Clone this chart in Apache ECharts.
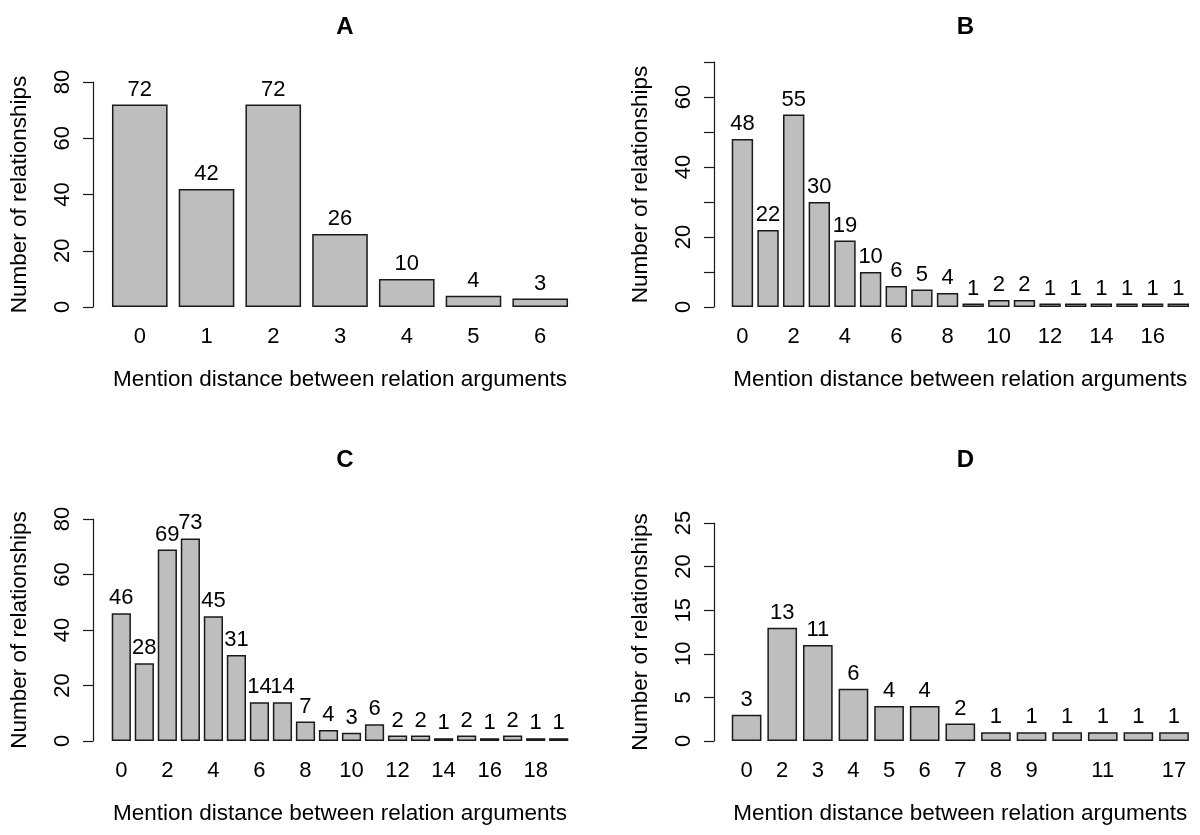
<!DOCTYPE html>
<html>
<head>
<meta charset="utf-8">
<script src="https://cdn.jsdelivr.net/npm/echarts@6/dist/echarts.min.js"></script>
<style>html,body{margin:0;padding:0;background:#fff;}#chart{width:1200px;height:835px;}</style>
</head>
<body>
<div id="chart"></div>
<script>
// ---- Data ----
const catsA = ['0','1','2','3','4','5','6'];
const valsA = [72, 42, 72, 26, 10, 4, 3];

const catsB = ['0','1','2','3','4','5','6','7','8','9','10','11','12','13','14','15','16','17'];
const valsB = [48, 22, 55, 30, 19, 10, 6, 5, 4, 1, 2, 2, 1, 1, 1, 1, 1, 1];

const catsC = ['0','1','2','3','4','5','6','7','8','9','10','11','12','13','14','15','16','17','18','19'];
const valsC = [46, 28, 69, 73, 45, 31, 14, 14, 7, 4, 3, 6, 2, 2, 1, 2, 1, 2, 1, 1];

const catsD = ['0','2','3','4','5','6','7','8','9','10','11','12','17'];
const valsD = [3, 13, 11, 6, 4, 4, 2, 1, 1, 1, 1, 1, 1];
const hiddenD = [9, 11];

const panelTitles = ['A', 'B', 'C', 'D'];
const yMax = [80, 70, 80, 25];
const yInterval = [20, 10, 20, 5];
const yLabelStep = [20, 20, 20, 5];
const xTitle = 'Mention distance between relation arguments';
const yTitle = 'Number of relationships';

// ---- Layout ----
const FONT = 'Liberation Sans, Arial, Helvetica, sans-serif';
const FS = 22;
const grids = [
  {left: 106.4, top: 82, width: 467.2, height: 225, offset: 13.4},
  {left: 729.6, top: 62, width: 461.5, height: 245, offset: 15.6},
  {left: 109.8, top: 519, width: 460.4, height: 222, offset: 16.8},
  {left: 728.8, top: 523, width: 463, height: 218, offset: 14.8}
];
const cats = [catsA, catsB, catsC, catsD];
const vals = [valsA, valsB, valsC, valsD];
const xIntervals = [0, 1, 1, function (i) { return hiddenD.indexOf(i) < 0; }];

const option = {
  backgroundColor: '#fff',
  animation: false,
  title: grids.map((g, i) => ({
    text: panelTitles[i],
    left: g.left + g.width / 2,
    top: i < 2 ? 10 : 443,
    textAlign: 'center',
    textStyle: {fontFamily: FONT, fontSize: 24, fontWeight: 'bold', color: '#000'}
  })),
  grid: grids.map(g => ({left: g.left, top: g.top, width: g.width, height: g.height, containLabel: false, outerBoundsMode: 'none'})),
  xAxis: grids.map((g, i) => ({
    type: 'category',
    gridIndex: i,
    data: cats[i],
    axisLine: {show: false},
    axisTick: {show: false},
    axisLabel: {interval: xIntervals[i], margin: 19, fontSize: FS, color: '#000', fontFamily: FONT},
    name: xTitle,
    nameLocation: 'middle',
    nameGap: 61,
    nameTextStyle: {fontSize: 22.5, color: '#000', fontFamily: FONT}
  })),
  yAxis: grids.map((g, i) => ({
    type: 'value',
    gridIndex: i,
    min: 0,
    max: yMax[i],
    interval: yInterval[i],
    offset: g.offset,
    splitLine: {show: false},
    axisLine: {show: true, lineStyle: {color: '#1a1a1a', width: 1.2}},
    axisTick: {show: true, length: 10, lineStyle: {color: '#1a1a1a', width: 1.2}},
    axisLabel: {
      rotate: 90,
      margin: 19,
      fontSize: FS,
      color: '#000',
      fontFamily: FONT,
      formatter: (v) => (v % yLabelStep[i] === 0 ? String(v) : '')
    },
    name: yTitle,
    nameLocation: 'middle',
    nameRotate: 90,
    nameGap: 62,
    nameTextStyle: {fontSize: 22.5, color: '#000', fontFamily: FONT}
  })),
  series: grids.map((g, i) => ({
    type: 'bar',
    xAxisIndex: i,
    yAxisIndex: i,
    data: vals[i],
    barCategoryGap: '16.67%',
    itemStyle: {color: '#bebebe', borderColor: '#1a1a1a', borderWidth: 1.5},
    label: {show: true, position: 'top', distance: 4, fontSize: FS, color: '#000', fontFamily: FONT}
  }))
};

const chart = echarts.init(document.getElementById('chart'), null, {renderer: 'canvas'});
chart.setOption(option);
</script>
</body>
</html>
